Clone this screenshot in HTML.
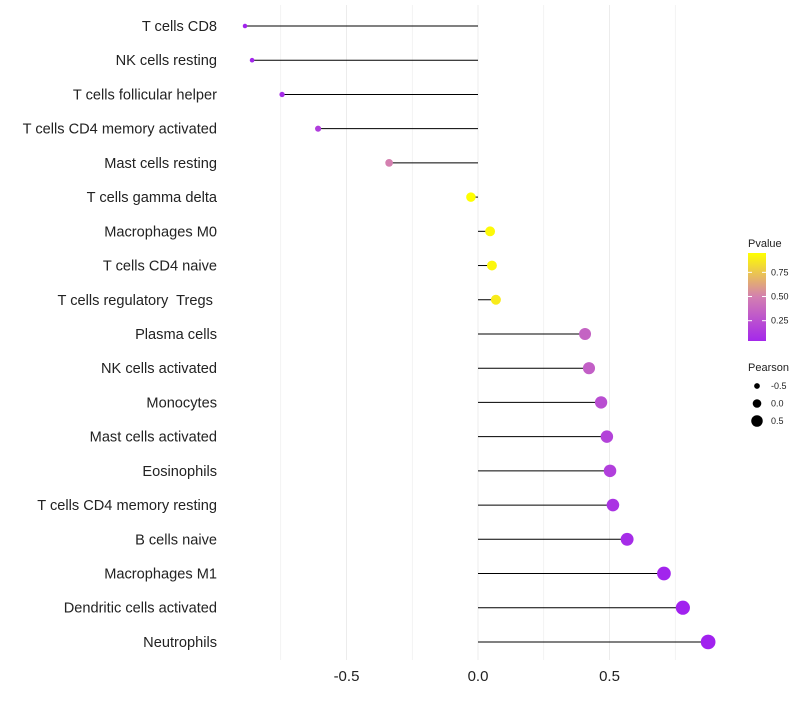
<!DOCTYPE html>
<html><head><meta charset="utf-8"><style>
body{margin:0;background:#fff;font-family:"Liberation Sans",sans-serif}
text{white-space:pre}
</style></head><body>
<svg id="c" width="800" height="700" xmlns="http://www.w3.org/2000/svg"></svg>
<script>
const categories=["T cells CD8","NK cells resting","T cells follicular helper","T cells CD4 memory activated","Mast cells resting","T cells gamma delta","Macrophages M0","T cells CD4 naive","T cells regulatory  Tregs ","Plasma cells","NK cells activated","Monocytes","Mast cells activated","Eosinophils","T cells CD4 memory resting","B cells naive","Macrophages M1","Dendritic cells activated","Neutrophils"];
const pearson=[-0.886,-0.859,-0.745,-0.608,-0.338,-0.027,0.046,0.053,0.068,0.407,0.422,0.468,0.490,0.502,0.513,0.567,0.707,0.779,0.875];
const pvalue=[0.02,0.03,0.06,0.15,0.5,0.95,0.93,0.92,0.88,0.35,0.33,0.24,0.18,0.16,0.1,0.06,0.02,0.01,0.005];
const xTicks=[-0.5,0,0.5];
const xTickLabels=["-0.5","0.0","0.5"];
const legendTicks=[0.25,0.5,0.75];
const sizeTicks=[-0.5,0,0.5];
const NS="http://www.w3.org/2000/svg";
const svg=document.getElementById("c");
function el(t,a,p){const e=document.createElementNS(NS,t);for(const k in a)e.setAttribute(k,a[k]);(p||svg).appendChild(e);return e;}
const x=v=>478+v*263;
const y=i=>26+i*34.22;
const r=v=>2.2+(v+0.9)*2.9;
function col(p){const a=[160,32,240],m=[212,128,176],b=[255,255,0];let c;
 if(p<0.5){const t=p/0.5;c=a.map((v,i)=>v+(m[i]-v)*t);}else{const t=(p-0.5)/0.45;c=m.map((v,i)=>v+(b[i]-v)*Math.min(1,t));}
 return`rgb(${c.map(Math.round).join(",")})`;}
[-0.75,-0.5,-0.25,0,0.25,0.5,0.75].forEach(v=>{
 const g=el("line",{x1:x(v),x2:x(v),y1:5,y2:660,stroke:"#ececec","stroke-width":Number.isInteger(v*2)?1:0.6});
 });
xTicks.forEach((v,i)=>{const t=el("text",{x:x(v),y:681,"text-anchor":"middle","font-size":15,fill:"#222"});t.textContent=xTickLabels[i];
 });
categories.forEach((c,i)=>{
 const t=el("text",{x:217,y:y(i)+5,"text-anchor":"end","font-size":14.6,fill:"#222"});t.textContent=c;
 
 const l=el("line",{x1:x(0),x2:x(pearson[i]),y1:y(i),y2:y(i),stroke:"#000","stroke-width":1});
 
 const d=el("circle",{cx:x(pearson[i]),cy:y(i),r:r(pearson[i]),fill:col(pvalue[i])});
 
});
const lt=el("text",{x:748,y:247,"font-size":11,fill:"#222"});lt.textContent="Pvalue";

const defs=el("defs",{});const gr=el("linearGradient",{id:"g",x1:0,y1:1,x2:0,y2:0},defs);
[0,0.25,0.5,0.75,1].forEach(s=>el("stop",{offset:s,"stop-color":col(0.04+s*0.91)},gr));
const cb=el("rect",{x:748,y:253,width:18,height:88,fill:"url(#g)"});

legendTicks.forEach(v=>{const yy=340-(v-0.04)/0.91*88+1;
 el("line",{x1:748,x2:752,y1:yy,y2:yy,stroke:"#fff"});el("line",{x1:762,x2:766,y1:yy,y2:yy,stroke:"#fff"});
 const t=el("text",{x:771,y:yy+3,"font-size":9,fill:"#222"});t.textContent=v.toFixed(2);
 });
const st=el("text",{x:748,y:371,"font-size":11,fill:"#222"});st.textContent="Pearson";

sizeTicks.forEach((v,i)=>{const yy=386+i*17.5;
 const c=el("circle",{cx:757,cy:yy,r:r(v)-0.5,fill:"#000"});
 const t=el("text",{x:771,y:yy+3,"font-size":9,fill:"#222"});t.textContent=v.toFixed(1);
 });
</script>
</body></html>
